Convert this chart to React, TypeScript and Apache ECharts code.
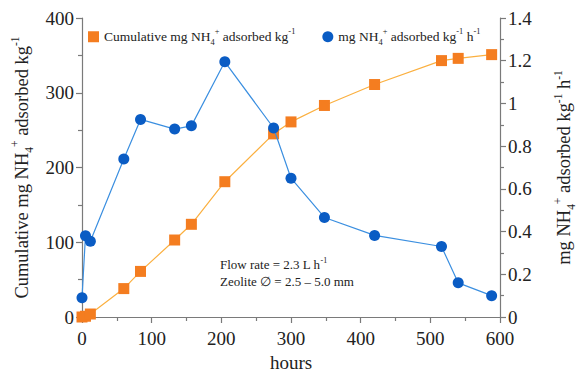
import React, { useEffect, useRef } from "react";
import * as echarts from "echarts";

const hours = [0, 5, 12, 60, 84, 133, 157, 205, 275, 300, 348, 420, 516, 540, 588];
const cumulative = [0, 1, 4, 38, 61, 103, 124, 181, 245, 261, 283, 311, 343, 346, 351];
const rate = [0.09, 0.38, 0.355, 0.74, 0.925, 0.88, 0.895, 1.195, 0.885, 0.65, 0.466, 0.382, 0.33, 0.16, 0.1];
const xTicks = [0, 100, 200, 300, 400, 500, 600];

const FONT = "Liberation Serif";

export default function App() {
  const ref = useRef<HTMLDivElement>(null);
  useEffect(() => {
    if (!ref.current) return;
    const chart = echarts.init(ref.current, undefined, { renderer: "svg" });
    const axisLine = { show: true, lineStyle: { color: "#7a7a7a", width: 1.2 } };
    const axisTick = { show: true, inside: false, length: 6, lineStyle: { color: "#7a7a7a", width: 1.2 } };
    const minorTick = { show: true, splitNumber: 2, length: 4, lineStyle: { color: "#7a7a7a", width: 1.2 } };
    const tickRich = {
      t: { fontFamily: FONT, fontSize: 19, color: "#222", lineHeight: 22 },
      e: { fontFamily: FONT, fontSize: 2, color: "#222", lineHeight: 22 },
    };
    const titleRich = (size: number) => ({
      n: { fontFamily: FONT, fontSize: size, color: "#222", lineHeight: size + 6 },
      sup: { fontFamily: FONT, fontSize: size * 0.62, color: "#222", verticalAlign: "top", lineHeight: size + 6 },
      sub: { fontFamily: FONT, fontSize: size * 0.62, color: "#222", verticalAlign: "bottom", lineHeight: size + 6 },
      e: { fontFamily: FONT, fontSize: 2, color: "#222", lineHeight: size + 6 },
    });
    const tickFmt = (v: number) => `{t|${Math.round(v * 10) / 10}}{e|\u200B}`;
    chart.setOption({
      animation: false,
      textStyle: { fontFamily: FONT },
      grid: { left: 82, right: 76, top: 18, bottom: 56, containLabel: false, outerBoundsMode: "none" },
      legend: {
        left: 88,
        top: 27,
        padding: 0,
        itemGap: 27,
        itemWidth: 11,
        itemHeight: 11,
        data: [
          { name: "cum", icon: "rect" },
          { name: "rate", icon: "circle" },
        ],
        formatter: (name: string) =>
          name === "cum"
            ? "{n|Cumulative mg NH}{sub|4}{sup|+}{n| adsorbed kg}{sup|-1}"
            : "{n|mg NH}{sub|4}{sup|+}{n| adsorbed kg}{sup|-1}{n| h}{sup|-1}",
        textStyle: { fontFamily: FONT, rich: titleRich(13.5) },
      },
      xAxis: {
        type: "value",
        min: 0,
        max: 600,
        interval: 100,
        name: "{n|hours}{e|\u200B}",
        nameLocation: "middle",
        nameGap: 33,
        nameTextStyle: { fontFamily: FONT, rich: titleRich(19) },
        axisLine,
        axisTick,
        minorTick,
        splitLine: { show: false },
        axisLabel: { margin: 10, customValues: xTicks, formatter: tickFmt, rich: tickRich },
      },
      yAxis: [
        {
          type: "value",
          min: 0,
          max: 400,
          interval: 100,
          position: "left",
          name: "{n|Cumulative mg NH}{sub|4}{sup|+}{n| adsorbed kg}{sup|-1}",
          nameLocation: "middle",
          nameRotate: 90,
          nameGap: 48,
          nameTextStyle: { fontFamily: FONT, rich: titleRich(18.5) },
          axisLine,
          axisTick,
          minorTick,
          splitLine: { show: false },
          axisLabel: { margin: 8, formatter: tickFmt, rich: tickRich },
        },
        {
          type: "value",
          min: 0,
          max: 1.4,
          interval: 0.2,
          position: "right",
          name: "{n|mg NH}{sub|4}{sup|+}{n| adsorbed kg}{sup|-1}{n| h}{sup|-1}",
          nameLocation: "middle",
          nameRotate: 90,
          nameGap: 52,
          nameTextStyle: { fontFamily: FONT, rich: titleRich(18.5) },
          axisLine,
          axisTick,
          minorTick,
          splitLine: { show: false },
          axisLabel: { margin: 8, formatter: tickFmt, rich: tickRich },
        },
      ],
      graphic: [
        {
          type: "text",
          left: 220,
          top: 256,
          style: {
            text: "{n|Flow rate = 2.3 L h}{sup|-1}\n{n|Zeolite ∅ = 2.5 – 5.0 mm}",
            rich: {
              n: { fontFamily: FONT, fontSize: 13, fill: "#222", lineHeight: 17 },
              sup: { fontFamily: FONT, fontSize: 8, fill: "#222", verticalAlign: "top", lineHeight: 17 },
            },
          },
        },
      ],
      series: [
        {
          name: "cum",
          type: "line",
          yAxisIndex: 0,
          data: hours.map((h, i) => [h, cumulative[i]]),
          symbol: "rect",
          symbolSize: 11,
          lineStyle: { color: "#fbb040", width: 1.2 },
          itemStyle: { color: "#f47d20" },
          z: 2,
        },
        {
          name: "rate",
          type: "line",
          yAxisIndex: 1,
          data: hours.map((h, i) => [h, rate[i]]),
          symbol: "circle",
          symbolSize: 11,
          lineStyle: { color: "#3b8fe0", width: 1.2 },
          itemStyle: { color: "#0a5cc4" },
          z: 3,
        },
      ],
    });
    return () => chart.dispose();
  }, []);
  return <div ref={ref} style={{ width: 576, height: 373, position: "absolute", left: 0, top: 0 }} />;
}
